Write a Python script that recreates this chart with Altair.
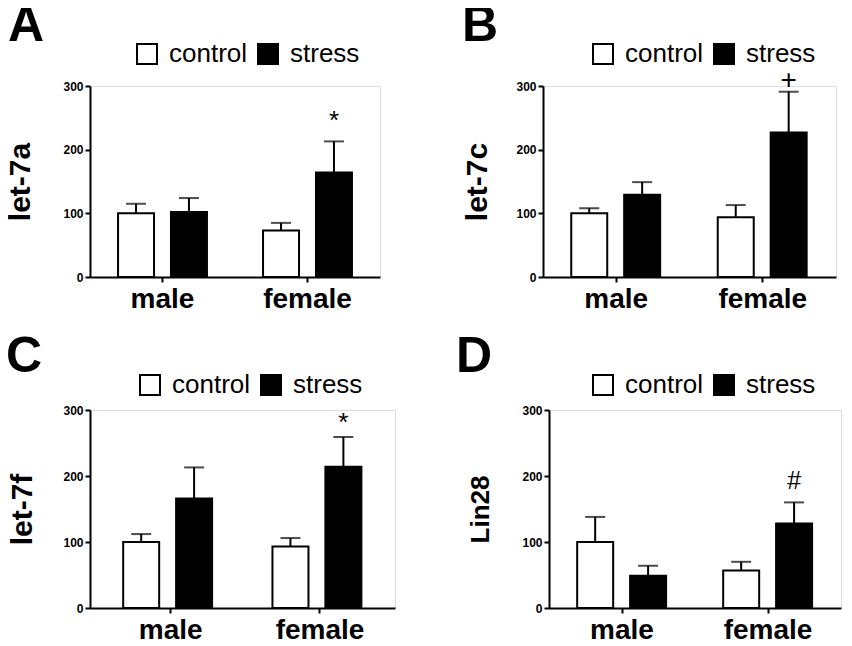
import altair as alt
import pandas as pd

FONT = "Liberation Sans, Arial, Helvetica, sans-serif"

sexes = ["male", "female"]
groups = ["control", "stress"]
y_ticks = [0, 100, 200, 300]

# order of each list: male-control, male-stress, female-control, female-stress
let7a_mean = [100, 102, 73, 164]
let7a_upper = [115, 124, 85, 213]
let7a_sig = ["", "", "", "*"]

let7c_mean = [100, 129, 94, 227]
let7c_upper = [108, 149, 113, 291]
let7c_sig = ["", "", "", "+"]

let7f_mean = [100, 166, 93, 214]
let7f_upper = [112, 213, 106, 259]
let7f_sig = ["", "", "", "*"]

lin28_mean = [100, 49, 57, 128]
lin28_upper = [138, 64, 70, 160]
lin28_sig = ["", "", "", "#"]


def panel(letter, ytitle, mean, upper, sig, width, height, letter_dx, letter_offset,
          leg_x, leg_y, ytitle_size, ytitle_pad, ann_size, ann_dy,
          x_pi=0.27, x_po=0.135, x_align=0.5):
    df = pd.DataFrame({
        "sex": [s for s in sexes for g in groups],
        "group": [g for s in sexes for g in groups],
        "mean": mean,
        "upper": upper,
        "sig": sig,
    })
    x = alt.X("sex:N", sort=sexes,
              scale=alt.Scale(paddingInner=x_pi, paddingOuter=x_po, align=x_align),
              axis=alt.Axis(title=None, labelAngle=0, labelFontSize=28, labelFontWeight="bold",
                            labelPadding=3, tickSize=5, tickWidth=2, domainWidth=2,
                            labelColor="black", tickColor="black", domainColor="black",
                            labelFont=FONT))
    xo = alt.XOffset("group:N", sort=groups,
                     scale=alt.Scale(paddingInner=0.32, paddingOuter=0.16))
    yscale = alt.Scale(domain=[0, 300], nice=False)
    base = alt.Chart(df).encode(x=x, xOffset=xo)
    bars = base.mark_bar(stroke="black", strokeWidth=2).encode(
        y=alt.Y("mean:Q", scale=yscale,
                axis=alt.Axis(values=y_ticks, title=ytitle, grid=False,
                              titleFontSize=ytitle_size, titleFontWeight="bold", titleFont=FONT,
                              titlePadding=ytitle_pad, titleColor="black",
                              labelFontSize=12, labelFontWeight="bold", labelFont=FONT,
                              labelPadding=2, labelColor="black",
                              tickSize=5, tickWidth=2, tickColor="black",
                              domainWidth=2, domainColor="black")),
        fill=alt.Fill("group:N", sort=groups,
                      scale=alt.Scale(domain=groups, range=["white", "black"]),
                      legend=alt.Legend(orient="none", legendX=leg_x, legendY=leg_y,
                                        direction="horizontal", title=None,
                                        symbolType="square", symbolSize=400,
                                        symbolStrokeColor="black", symbolStrokeWidth=2,
                                        labelFontSize=26, labelFont=FONT, labelColor="black",
                                        labelOffset=9, columnPadding=6, padding=0)),
    )
    err = base.mark_rule(strokeWidth=2, color="black").encode(
        y=alt.Y("mean:Q", scale=yscale), y2="upper:Q")
    cap = base.mark_tick(orient="horizontal", size=20, thickness=2, color="black").encode(
        y=alt.Y("upper:Q", scale=yscale))
    ann = base.transform_filter("datum.sig != ''").mark_text(
        fontSize=ann_size, font=FONT, color="black",
        baseline="alphabetic", dy=ann_dy).encode(
        y=alt.Y("upper:Q", scale=yscale), text="sig:N")
    return alt.layer(bars, err, cap, ann).properties(
        width=width, height=height,
        title=alt.TitleParams(letter, anchor="start", frame="group", dx=letter_dx,
                              offset=letter_offset, fontSize=50, fontWeight="bold",
                              baseline="alphabetic", font=FONT, color="black"))


pA = panel("A", "let-7a", let7a_mean, let7a_upper, let7a_sig, 290, 191, -82, -50,
           44, -45, 30, 27, 26, -12)
pB = panel("B", "let-7c", let7c_mean, let7c_upper, let7c_sig, 293, 191, -81, -50,
           47, -45, 30, 23, 28, -3)
pC = panel("C", "let-7f", let7f_mean, let7f_upper, let7f_sig, 305, 198, -84, -50,
           47, -38, 30, 25, 26, -6, x_pi=0.25, x_po=0.1465, x_align=0.565)
pD = panel("D", "Lin28", lin28_mean, lin28_upper, lin28_sig, 292, 198, -93, -50,
           41, -38, 26, 28, 25, -13)

row1 = alt.hconcat(pA, pB, spacing=80).resolve_scale(fill="independent").resolve_legend(fill="independent")
row2 = alt.hconcat(pC, pD, spacing=59).resolve_scale(fill="independent").resolve_legend(fill="independent")

chart = alt.vconcat(row1, row2, spacing=17).resolve_scale(fill="independent").resolve_legend(
    fill="independent").properties(
    padding={"left": -3, "top": -8, "right": 0, "bottom": 0}).configure_view(stroke=None).configure(font=FONT)

chart.save("out.html", embed_options={"renderer": "svg", "actions": False})
